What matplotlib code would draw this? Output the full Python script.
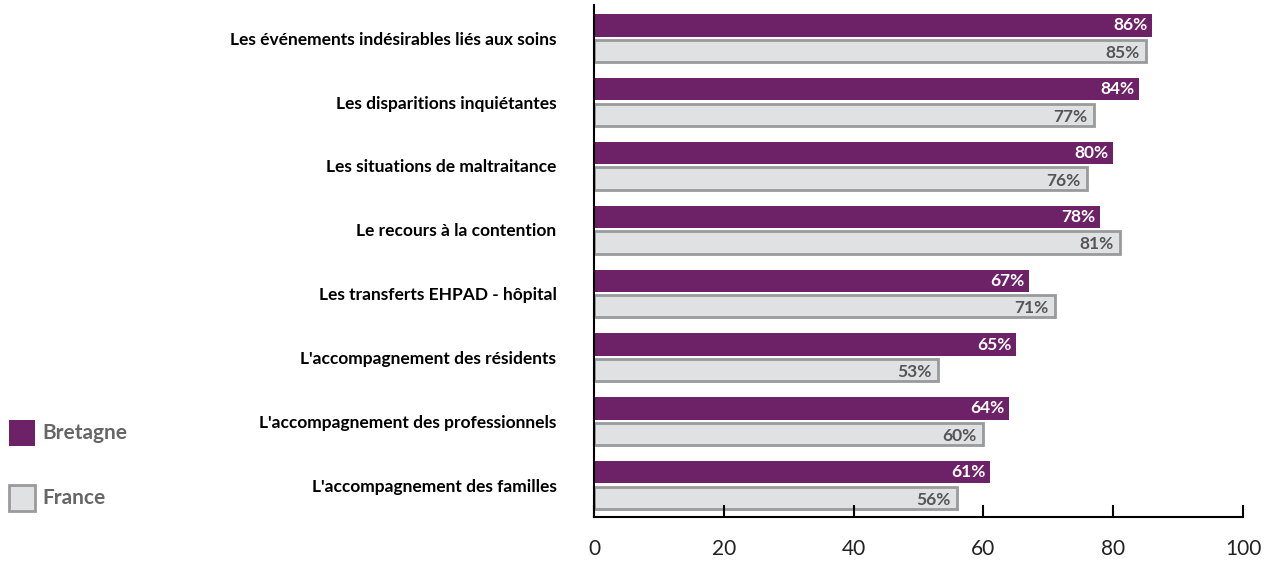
import numpy as np
import matplotlib
matplotlib.use("Agg")
import matplotlib.pyplot as plt
from matplotlib.patches import Rectangle

categories = [
    "Les événements indésirables liés aux soins",
    "Les disparitions inquiétantes",
    "Les situations de maltraitance",
    "Le recours à la contention",
    "Les transferts EHPAD - hôpital",
    "L'accompagnement des résidents",
    "L'accompagnement des professionnels",
    "L'accompagnement des familles",
]
bretagne = [86, 84, 80, 78, 67, 65, 64, 61]
france = [85, 77, 76, 81, 71, 53, 60, 56]
xticks = [0, 20, 40, 60, 80, 100]

plt.rcParams['font.family'] = ['Lato', 'DejaVu Sans']

purple = "#6d2166"
grey_fill = "#e0e1e3"
grey_edge = "#9a9a9a"

fig = plt.figure(figsize=(12.76, 5.66), dpi=100)
ax = fig.add_axes([594/1276, 1 - 517/566, (1243-594)/1276, (517-5)/566])

y = np.arange(len(categories))
h = 0.35
ax.barh(y - 0.2, bretagne, height=h, color=purple)
ax.barh(y + 0.2, france, height=h, color=grey_fill, edgecolor=grey_edge, linewidth=2)

for yi, v in zip(y, bretagne):
    ax.text(v - 0.7, yi - 0.2, f"{v}%", color="white", fontsize=12.5, fontweight="bold",
            ha="right", va="center")
for yi, v in zip(y, france):
    ax.text(v - 1.0, yi + 0.23, f"{v}%", color="#555555", fontsize=12.5, fontweight="bold",
            ha="right", va="center")

ax.set_xlim(0, 100)
ax.set_ylim(7.5, -0.52)
ax.set_xticks(xticks)
ax.set_xticklabels([str(t) for t in xticks], fontsize=15, color="#222222")
ax.tick_params(axis="x", direction="in", length=8.5, width=1.5, pad=16)
ax.set_yticks(y)
ax.set_yticklabels(categories, fontsize=12.5, fontweight="bold", color="black")
ax.tick_params(axis="y", length=0, pad=27)
for s in ["top", "right"]:
    ax.spines[s].set_visible(False)
for s in ["left", "bottom"]:
    ax.spines[s].set_linewidth(1.5)

# legend drawn by hand on the left
W, H = 1276, 566
legend = [("Bretagne", purple, purple, 420), ("France", grey_fill, grey_edge, 485)]
for name, fc, ec, top in legend:
    fig.add_artist(Rectangle((9/W, 1 - (top + 26)/H), 26/W, 26/H, transform=fig.transFigure,
                             facecolor=fc, edgecolor=ec, linewidth=2 if fc != ec else 0))
    fig.text(42/W, 1 - (top + 13)/H, name, fontsize=15, fontweight="bold",
             color="#666666", ha="left", va="center")

fig.savefig("out.png", dpi=100)
